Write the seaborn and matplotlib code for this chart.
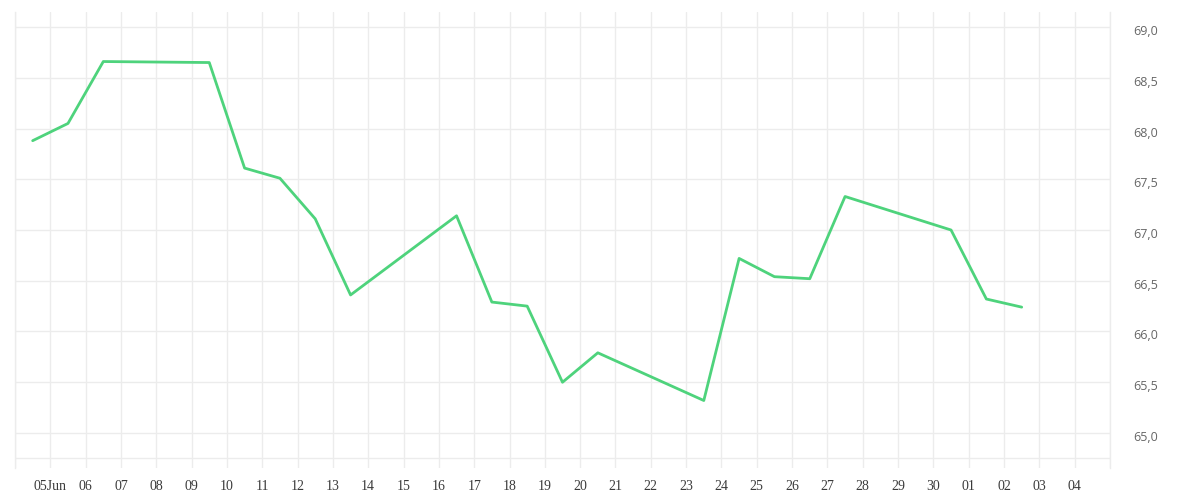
import matplotlib
matplotlib.use("Agg")
import matplotlib.pyplot as plt
import matplotlib.dates as mdates
import matplotlib.ticker as mticker
import matplotlib.transforms as mtransforms
import seaborn as sns
import pandas as pd

dates = ["2025-06-04", "2025-06-05", "2025-06-06", "2025-06-09", "2025-06-10",
         "2025-06-11", "2025-06-12", "2025-06-13", "2025-06-16", "2025-06-17",
         "2025-06-18", "2025-06-19", "2025-06-20", "2025-06-23", "2025-06-24",
         "2025-06-25", "2025-06-26", "2025-06-27", "2025-06-30", "2025-07-01",
         "2025-07-02"]
values = [67.88, 68.05, 68.66, 68.65, 67.61,
          67.51, 67.11, 66.36, 67.14, 66.29,
          66.25, 65.50, 65.79, 65.32, 66.72,
          66.54, 66.52, 67.33, 67.00, 66.32,
          66.24]
y_ticks = [65.0, 65.5, 66.0, 66.5, 67.0, 67.5, 68.0, 68.5, 69.0]

df = pd.DataFrame({"date": pd.to_datetime(dates) + pd.Timedelta(hours=12),
                   "value": values})

sns.set_theme(style="white")
plt.rcParams["font.family"] = ["DejaVu Sans"]

GRID = "#ececec"
fig = plt.figure(figsize=(12, 5), dpi=100)
ax = fig.add_axes([15 / 1200, 32 / 500, 1095 / 1200, 456 / 500])

sns.lineplot(data=df, x="date", y="value", ax=ax, color="#4ed37c",
             linewidth=2.0, zorder=3)

ax.set_xlim(pd.Timestamp("2025-06-04"), pd.Timestamp("2025-07-05"))
ax.set_ylim(64.655, 69.148)

ax.axhline(64.75, color=GRID, linewidth=1.0, zorder=1)

ax.xaxis.set_major_locator(mdates.DayLocator())
def xfmt(x, pos):
    d = mdates.num2date(x)
    if d.month == 6 and d.day == 5:
        return "05Jun"
    if (d.month == 6 and d.day == 4) or (d.month == 7 and d.day == 5):
        return ""
    return d.strftime("%d")
ax.xaxis.set_major_formatter(mticker.FuncFormatter(xfmt))
ax.set_yticks(y_ticks)
ax.yaxis.set_major_formatter(mticker.FuncFormatter(lambda v, p: f"{v:.1f}".replace(".", ",")))

ax.yaxis.tick_right()
ax.grid(True, color=GRID, linewidth=1.0)
ax.set_axisbelow(True)

ax.tick_params(axis="x", length=0, pad=9, labelsize=10, labelcolor="#3a3a3a",
               labelfontfamily="Liberation Serif")
ax.tick_params(axis="y", length=0, pad=17, labelsize=9, labelcolor="#666666",
               labelfontfamily="Open Sans")

offset = mtransforms.ScaledTranslation(0, -3 / 100, fig.dpi_scale_trans)
for t in ax.yaxis.get_major_ticks():
    t.label2.set_transform(t.label2.get_transform() + offset)

for s in ["top", "bottom"]:
    ax.spines[s].set_visible(False)
for s in ["left", "right"]:
    ax.spines[s].set_color(GRID)
    ax.spines[s].set_linewidth(1.0)

ax.set_xlabel("")
ax.set_ylabel("")

fig.savefig("out.png", dpi=100, facecolor="white")
